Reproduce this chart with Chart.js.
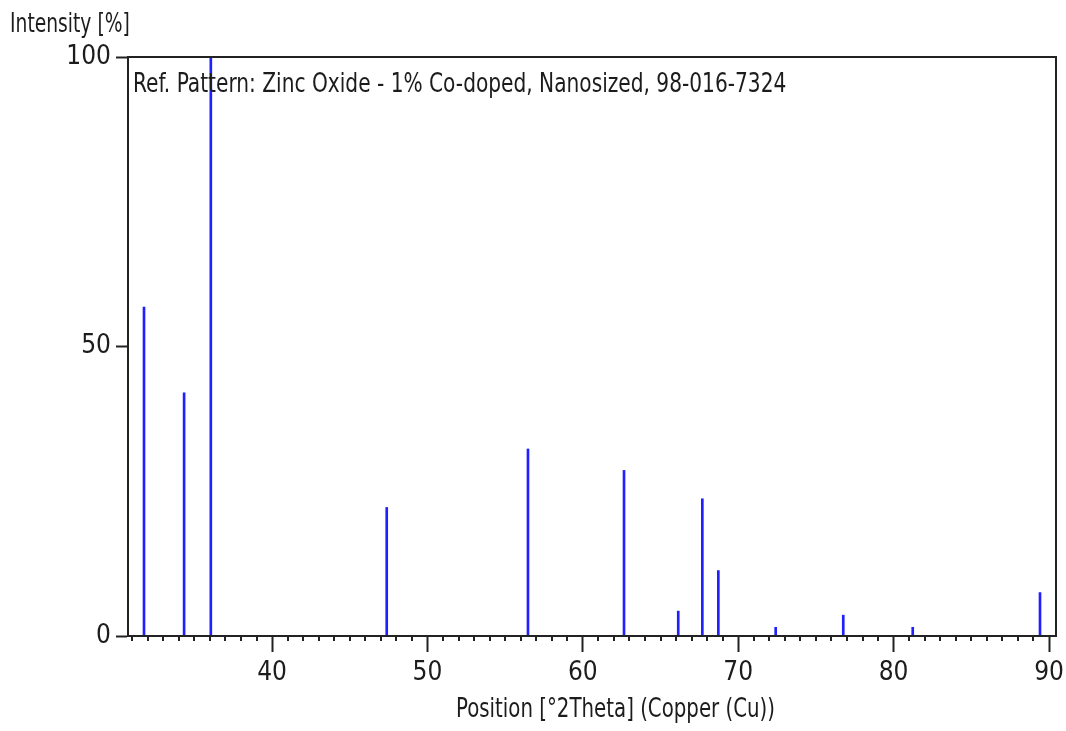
<!DOCTYPE html>
<html>
<head>
<meta charset="utf-8">
<script src="https://cdn.jsdelivr.net/npm/chart.js@4.4.1/dist/chart.umd.min.js"></script>
<style>
  html, body { margin: 0; padding: 0; background: #fff; }
  #wrap { width: 1066px; height: 731px; position: relative; }
</style>
</head>
<body>
<div id="wrap"><canvas id="xrdChart"></canvas></div>
<script>
// Reference pattern peaks: 2Theta position and relative intensity (%)
const peakPositions = [31.76, 34.34, 36.06, 47.38, 56.47, 62.65, 66.14, 67.69, 68.72, 72.41, 76.76, 81.23, 89.42];
const peakIntensities = [56.8, 42.0, 100, 22.2, 32.3, 28.6, 4.3, 23.7, 11.3, 1.5, 3.6, 1.5, 7.5];

// Axis ticks
const xMajorTicks = [40, 50, 60, 70, 80, 90];
const xMinorStep = 1;
const yTicks = [0, 50, 100];

// Texts
const patternLabel = 'Ref. Pattern: Zinc Oxide - 1% Co-doped, Nanosized, 98-016-7324';
const xAxisTitle = 'Position [°2Theta] (Copper (Cu))';
const yAxisTitle = 'Intensity [%]';

const FONT_FAMILY = "'DejaVu Sans Condensed', 'Noto Sans', sans-serif";
const TEXT_COLOR = '#1c1c1c';

// the original uses a very narrow face, so free texts are squeezed sideways
function drawNarrowText(c, text, x, y, squeeze) {
    c.save();
    c.translate(x, y);
    c.scale(squeeze, 1);
    c.fillText(text, 0, 0);
    c.restore();
}

// Draws the closed frame, the minor ticks and the free texts
const framePlugin = {
    id: 'framePlugin',
    afterDraw(chart) {
        const c = chart.ctx;
        const area = chart.chartArea;
        const xs = chart.scales.x;

        c.save();
        // frame round the plot area
        c.strokeStyle = '#222';
        c.lineWidth = 2;
        c.strokeRect(area.left, area.top, area.right - area.left, area.bottom - area.top);

        // minor ticks on the position axis
        c.beginPath();
        for (let v = Math.ceil(xs.min); v <= xs.max; v += xMinorStep) {
            if (xMajorTicks.includes(v)) continue;
            const px = Math.round(xs.getPixelForValue(v));
            c.moveTo(px, area.bottom);
            c.lineTo(px, area.bottom + 5);
        }
        c.stroke();

        // texts
        c.fillStyle = TEXT_COLOR;
        c.textBaseline = 'alphabetic';
        c.textAlign = 'left';
        c.font = '26px ' + FONT_FAMILY;
        drawNarrowText(c, yAxisTitle, 10, 32, 0.8);
        drawNarrowText(c, patternLabel, area.left + 5, 92, 0.862);
        drawNarrowText(c, xAxisTitle, 456, 717, 0.846);
        c.restore();
    }
};

const ctx = document.getElementById('xrdChart').getContext('2d');
const xrdChart = new Chart(ctx, {
    type: 'bar',
    data: {
        datasets: [{
            label: 'Zinc Oxide',
            data: peakPositions.map((x, i) => ({ x: x, y: peakIntensities[i] })),
            backgroundColor: '#1f1fff',
            borderWidth: 0,
            barThickness: 2
        }]
    },
    options: {
        responsive: true,
        maintainAspectRatio: false,
        animation: false,
        layout: { padding: { top: 57, left: 0, right: 10, bottom: 0 } },
        plugins: {
            legend: { display: false },
            tooltip: { enabled: false }
        },
        scales: {
            x: {
                type: 'linear',
                min: 30.73,
                max: 90.45,
                offset: false,
                afterBuildTicks: (scale) => {
                    scale.ticks = xMajorTicks.map(v => ({ value: v }));
                },
                afterFit: (scale) => {
                    scale.height = 95;
                    scale.paddingRight = 0;
                    scale.paddingLeft = 0;
                },
                ticks: {
                    autoSkip: false,
                    maxRotation: 0,
                    color: TEXT_COLOR,
                    padding: 6,
                    font: { family: FONT_FAMILY, size: 26 }
                },
                grid: {
                    offset: false,
                    drawOnChartArea: false,
                    tickLength: 16,
                    tickWidth: 2,
                    tickColor: '#222'
                },
                border: { color: '#222', width: 2 }
            },
            y: {
                min: 0,
                max: 100,
                afterBuildTicks: (scale) => {
                    scale.ticks = yTicks.map(v => ({ value: v }));
                },
                afterFit: (scale) => {
                    scale.width = 128;
                    scale.paddingTop = 0;
                    scale.paddingBottom = 0;
                },
                ticks: {
                    color: TEXT_COLOR,
                    padding: 5,
                    font: { family: FONT_FAMILY, size: 26 }
                },
                grid: {
                    drawOnChartArea: false,
                    tickLength: 12,
                    tickWidth: 2,
                    tickColor: '#222'
                },
                border: { color: '#222', width: 2 }
            }
        }
    },
    plugins: [framePlugin]
});
</script>
</body>
</html>
